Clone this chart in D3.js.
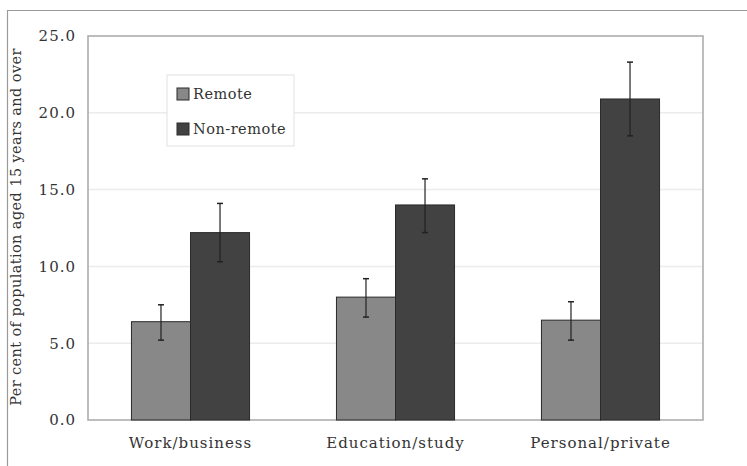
<!DOCTYPE html>
<html>
<head>
<meta charset="utf-8">
<script src="https://cdn.jsdelivr.net/npm/d3@7"></script>
<style>
  body { margin: 0; background: #fff; }
</style>
</head>
<body>
<svg class="chart" width="747" height="466"></svg>
<script>
// data
var categories = ["Work/business", "Education/study", "Personal/private"];
var seriesNames = ["Remote", "Non-remote"];
var remoteValues = [6.4, 8.0, 6.5];
var remoteLow = [5.2, 6.7, 5.2];
var remoteHigh = [7.5, 9.2, 7.7];
var nonRemoteValues = [12.2, 14.0, 20.9];
var nonRemoteLow = [10.3, 12.2, 18.5];
var nonRemoteHigh = [14.1, 15.7, 23.3];
var yTicks = [0, 5, 10, 15, 20, 25];

var colors = ["#888888", "#424242"];
var font = "'DejaVu Serif', 'Liberation Serif', serif";

var svg = d3.select(".chart");

var margin = { top: 36, right: 44, bottom: 46, left: 88 },
    width = 747 - margin.left - margin.right,
    height = 466 - margin.top - margin.bottom;

// outer frame (only top and left visible)
svg.append("path")
    .attr("d", "M7.5,466 L7.5,10.5 L747,10.5")
    .attr("fill", "none")
    .attr("stroke", "#9a9a9a")
    .attr("stroke-width", 1.2);

var g = svg.append("g")
    .attr("transform", `translate(${margin.left}, ${margin.top})`);

var x = d3.scaleBand()
    .domain(categories)
    .range([0, width])
    .paddingInner(0)
    .paddingOuter(0);

var xSub = d3.scaleBand()
    .domain(seriesNames)
    .range([x.bandwidth() * 0.212, x.bandwidth() * 0.788]);

var y = d3.scaleLinear()
    .domain([0, 25])
    .range([height, 0]);

// grid lines
g.selectAll(".grid")
    .data(yTicks.slice(1, -1))
    .enter().append("line")
    .attr("class", "grid")
    .attr("x1", 0)
    .attr("x2", width)
    .attr("y1", d => y(d))
    .attr("y2", d => y(d))
    .attr("stroke", "#ececec")
    .attr("stroke-width", 1.5);

// plot border
g.append("rect")
    .attr("x", 0)
    .attr("y", 0)
    .attr("width", width)
    .attr("height", height)
    .attr("fill", "none")
    .attr("stroke", "#a8a8a8")
    .attr("stroke-width", 1.5);

// y axis
var yAxis = g.append("g")
    .call(d3.axisLeft(y).tickValues(yTicks).tickFormat(d3.format(".1f")).tickSize(0).tickPadding(12));
yAxis.select(".domain").remove();
yAxis.selectAll("text")
    .attr("font-family", font)
    .attr("font-size", "15px")
    .attr("letter-spacing", "1px")
    .attr("fill", "#333");

// x axis
var xAxis = g.append("g")
    .attr("transform", `translate(0, ${height})`)
    .call(d3.axisBottom(x).tickSize(0).tickPadding(17));
xAxis.select(".domain").remove();
xAxis.selectAll("text")
    .attr("font-family", font)
    .attr("font-size", "15px")
    .attr("letter-spacing", "1px")
    .attr("fill", "#333");

// bars
var rows = categories.map(function (c, i) {
    return [
        { cat: c, key: "Remote", v: remoteValues[i], lo: remoteLow[i], hi: remoteHigh[i] },
        { cat: c, key: "Non-remote", v: nonRemoteValues[i], lo: nonRemoteLow[i], hi: nonRemoteHigh[i] }
    ];
});
var color = d3.scaleOrdinal().domain(seriesNames).range(colors);

var groups = g.selectAll(".cat")
    .data(rows)
    .join("g")
    .attr("class", "cat")
    .attr("transform", d => `translate(${x(d[0].cat)}, 0)`);

groups.selectAll("rect")
    .data(d => d)
    .join("rect")
    .attr("x", d => xSub(d.key))
    .attr("y", d => y(d.v))
    .attr("width", xSub.bandwidth())
    .attr("height", d => y(0) - y(d.v))
    .attr("fill", d => color(d.key))
    .attr("stroke", "#2a2a2a")
    .attr("stroke-width", 1);

// error bars
var err = groups.selectAll(".err")
    .data(d => d)
    .join("g")
    .attr("class", "err")
    .attr("transform", d => `translate(${xSub(d.key) + xSub.bandwidth() / 2}, 0)`);
err.append("line")
    .attr("x1", 0).attr("x2", 0)
    .attr("y1", d => y(d.hi))
    .attr("y2", d => y(d.lo))
    .attr("stroke", "#222")
    .attr("stroke-width", 1.2);
err.selectAll(".cap")
    .data(d => [d.hi, d.lo])
    .join("line")
    .attr("class", "cap")
    .attr("x1", -3).attr("x2", 3)
    .attr("y1", d => y(d))
    .attr("y2", d => y(d))
    .attr("stroke", "#222")
    .attr("stroke-width", 1.5);

// y label
svg.append("text")
    .attr("transform", "translate(21, 227) rotate(-90)")
    .attr("text-anchor", "middle")
    .attr("font-family", font)
    .attr("font-size", "14.5px")
    .attr("letter-spacing", "0.4px")
    .attr("fill", "#333")
    .text("Per cent of population aged 15 years and over");

// legend
var legend = svg.append("g")
    .attr("transform", "translate(167, 75)");
legend.append("rect")
    .attr("width", 127)
    .attr("height", 71)
    .attr("fill", "#fff")
    .attr("stroke", "#e2e2e2")
    .attr("stroke-width", 1);
var items = legend.selectAll(".item")
    .data(seriesNames)
    .join("g")
    .attr("class", "item")
    .attr("transform", (d, i) => `translate(10, ${19 + i * 35})`);
items.append("rect")
    .attr("x", 0)
    .attr("y", -6)
    .attr("width", 12)
    .attr("height", 12)
    .attr("fill", d => color(d))
    .attr("stroke", "#2a2a2a")
    .attr("stroke-width", 1);
items.append("text")
    .attr("x", 16)
    .attr("y", 0)
    .attr("dy", "0.35em")
    .attr("font-family", font)
    .attr("font-size", "14.5px")
    .attr("letter-spacing", "0.5px")
    .attr("fill", "#333")
    .text(d => d);
</script>
</body>
</html>
